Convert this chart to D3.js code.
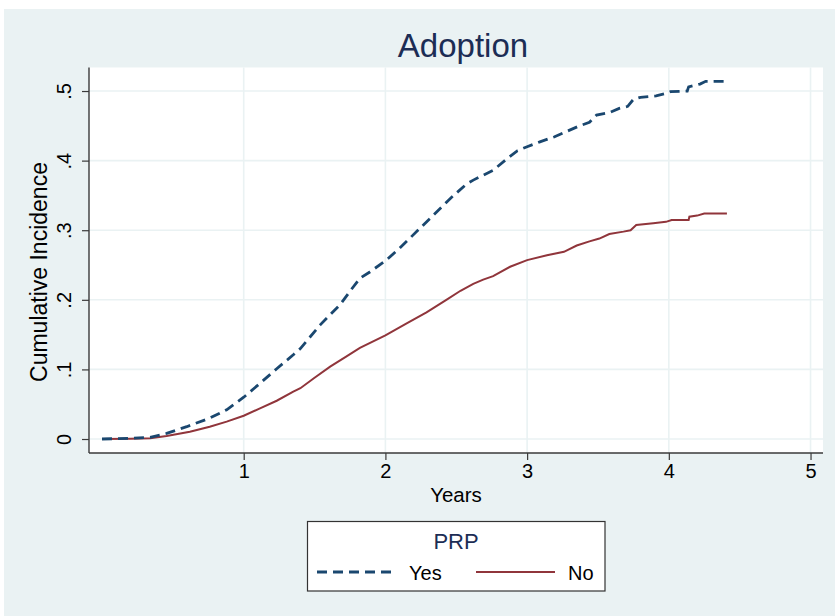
<!DOCTYPE html>
<html>
<head>
<meta charset="utf-8">
<script src="https://cdn.jsdelivr.net/npm/d3@7/dist/d3.min.js"></script>
<style>
  html, body { margin: 0; padding: 0; background: #ffffff; }
  svg { display: block; }
  text { font-family: "Liberation Sans", Arial, Helvetica, sans-serif; }
</style>
</head>
<body>
<svg id="chart" width="835" height="616"></svg>
<script>
// ---- data ----
const title = "Adoption";
const xLabel = "Years";
const yLabel = "Cumulative Incidence";
const legendTitle = "PRP";
const seriesNames = ["Yes", "No"];
const xTicks = [1, 2, 3, 4, 5];
const yTicks = [0, 0.1, 0.2, 0.3, 0.4, 0.5];
const yTickLabels = ["0", ".1", ".2", ".3", ".4", ".5"];

const yesTime = [0, 0.2, 0.34, 0.456, 0.598, 0.76, 0.88, 1.0, 1.115, 1.233, 1.35, 1.40, 1.54, 1.68, 1.76, 1.82, 1.89, 2.0, 2.1, 2.24, 2.34, 2.46, 2.57, 2.62, 2.69, 2.76, 2.86, 2.93, 3.0, 3.09, 3.19, 3.28, 3.37, 3.44, 3.49, 3.58, 3.65, 3.71, 3.75, 3.80, 3.91, 3.97, 4.01, 4.13, 4.14, 4.22, 4.26, 4.41];
const yesValue = [0, 0.001, 0.0025, 0.008, 0.0177, 0.030, 0.042, 0.060, 0.080, 0.101, 0.121, 0.130, 0.164, 0.193, 0.215, 0.231, 0.240, 0.256, 0.274, 0.302, 0.322, 0.346, 0.366, 0.372, 0.379, 0.386, 0.403, 0.414, 0.420, 0.427, 0.434, 0.442, 0.450, 0.455, 0.4655, 0.469, 0.475, 0.478, 0.488, 0.491, 0.493, 0.496, 0.499, 0.500, 0.506, 0.510, 0.514, 0.514];

const noTime = [0, 0.2, 0.34, 0.456, 0.62, 0.76, 0.88, 1.0, 1.115, 1.233, 1.35, 1.40, 1.50, 1.61, 1.72, 1.82, 2.0, 2.15, 2.29, 2.43, 2.53, 2.62, 2.69, 2.76, 2.88, 3.0, 3.14, 3.26, 3.35, 3.44, 3.51, 3.58, 3.68, 3.73, 3.77, 3.89, 3.98, 4.02, 4.14, 4.145, 4.20, 4.25, 4.41];
const noValue = [0, 0.0005, 0.001, 0.0043, 0.0105, 0.0177, 0.025, 0.0335, 0.044, 0.055, 0.068, 0.073, 0.088, 0.104, 0.118, 0.131, 0.149, 0.166, 0.182, 0.200, 0.213, 0.223, 0.229, 0.234, 0.2475, 0.257, 0.264, 0.269, 0.278, 0.284, 0.288, 0.2945, 0.298, 0.300, 0.3075, 0.310, 0.312, 0.3147, 0.3147, 0.3194, 0.321, 0.324, 0.324];

// ---- layout ----
const W = 835, H = 616;
const plot = { left: 89, right: 823, top: 67.5, bottom: 453 };
const bgColor = "#eaf2f3";
const navy = "#1a476f";
const maroon = "#90353b";
const titleColor = "#1c2d55";

const svg = d3.select("#chart");

svg.append("rect").attr("x", 4).attr("y", 9).attr("width", W - 4).attr("height", H - 9).attr("fill", bgColor);
svg.append("rect").attr("x", plot.left).attr("y", plot.top)
  .attr("width", plot.right - plot.left).attr("height", plot.bottom - plot.top).attr("fill", "#ffffff");

const x = d3.scaleLinear().domain([-0.0917, 5.088]).range([plot.left, plot.right]);
const y = d3.scaleLinear().domain([-0.0201, 0.5338]).range([plot.bottom, plot.top]);

// grid
const grid = svg.append("g");
grid.selectAll("line.gx").data(xTicks).join("line")
  .attr("x1", d => x(d)).attr("x2", d => x(d))
  .attr("y1", plot.top).attr("y2", plot.bottom)
  .attr("stroke", bgColor).attr("stroke-width", 1.6);
grid.selectAll("line.gy").data(yTicks).join("line")
  .attr("y1", d => y(d)).attr("y2", d => y(d))
  .attr("x1", plot.left).attr("x2", plot.right)
  .attr("stroke", bgColor).attr("stroke-width", 1.6);

// series
const yesData = yesTime.map((t, i) => [t, yesValue[i]]);
const noData = noTime.map((t, i) => [t, noValue[i]]);
const line = d3.line().x(d => x(d[0])).y(d => y(d[1])).curve(d3.curveLinear);

svg.append("path").datum(noData).attr("d", line)
  .attr("fill", "none").attr("stroke", maroon).attr("stroke-width", 2);
svg.append("path").datum(yesData).attr("d", line)
  .attr("fill", "none").attr("stroke", navy).attr("stroke-width", 2.8)
  .attr("stroke-dasharray", "10,6");

// axes
const xAxis = d3.axisBottom(x).tickValues(xTicks).tickSize(7).tickPadding(4).tickFormat(d3.format("d"));
const gx = svg.append("g").attr("transform", `translate(0,${plot.bottom})`).call(xAxis);
gx.select(".domain").attr("d", `M${plot.left},0H${plot.right}`).attr("stroke", "#3a3a3a").attr("stroke-width", 1.4);
gx.selectAll(".tick line").attr("stroke", "#3a3a3a").attr("stroke-width", 1.2);
gx.selectAll(".tick text").attr("fill", "#000").style("font-size", "20px");

const yAxis = d3.axisLeft(y).tickValues(yTicks).tickSize(7).tickPadding(0)
  .tickFormat((d, i) => yTickLabels[i]);
const gy = svg.append("g").attr("transform", `translate(${plot.left},0)`).call(yAxis);
gy.select(".domain").attr("d", `M0,${plot.top}V${plot.bottom}`).attr("stroke", "#3a3a3a").attr("stroke-width", 1.4);
gy.selectAll(".tick line").attr("stroke", "#3a3a3a").attr("stroke-width", 1.2);
gy.selectAll(".tick text")
  .attr("fill", "#000").style("font-size", "20px")
  .attr("x", null).attr("dy", null)
  .attr("text-anchor", "middle")
  .attr("transform", "translate(-18,0) rotate(-90)")
  .attr("dy", "0em");

// titles
svg.append("text").attr("x", 463).attr("y", 57).attr("text-anchor", "middle")
  .attr("fill", titleColor).style("font-size", "33px").text(title);
svg.append("text").attr("x", 456).attr("y", 502).attr("text-anchor", "middle")
  .attr("fill", "#000").style("font-size", "20.5px").text(xLabel);
svg.append("text").attr("transform", `translate(47,272) rotate(-90)`)
  .attr("text-anchor", "middle").attr("fill", "#000").style("font-size", "23px").text(yLabel);

// legend
const lg = svg.append("g");
lg.append("rect").attr("x", 307.5).attr("y", 521.5).attr("width", 297.5).attr("height", 69.5)
  .attr("fill", "#ffffff").attr("stroke", "#333").attr("stroke-width", 1.2);
lg.append("text").attr("x", 456).attr("y", 549).attr("text-anchor", "middle")
  .attr("fill", titleColor).style("font-size", "22px").text(legendTitle);
const legendItems = [
  { name: seriesNames[0], color: navy, width: 2.8, dash: "10,6", x1: 317, x2: 395, tx: 409 },
  { name: seriesNames[1], color: maroon, width: 2, dash: null, x1: 476, x2: 555, tx: 568 }
];
legendItems.forEach(it => {
  lg.append("line").attr("x1", it.x1).attr("x2", it.x2).attr("y1", 572).attr("y2", 572)
    .attr("stroke", it.color).attr("stroke-width", it.width)
    .attr("stroke-dasharray", it.dash);
  lg.append("text").attr("x", it.tx).attr("y", 580).attr("fill", "#000")
    .style("font-size", "20px").text(it.name);
});
</script>
</body>
</html>
